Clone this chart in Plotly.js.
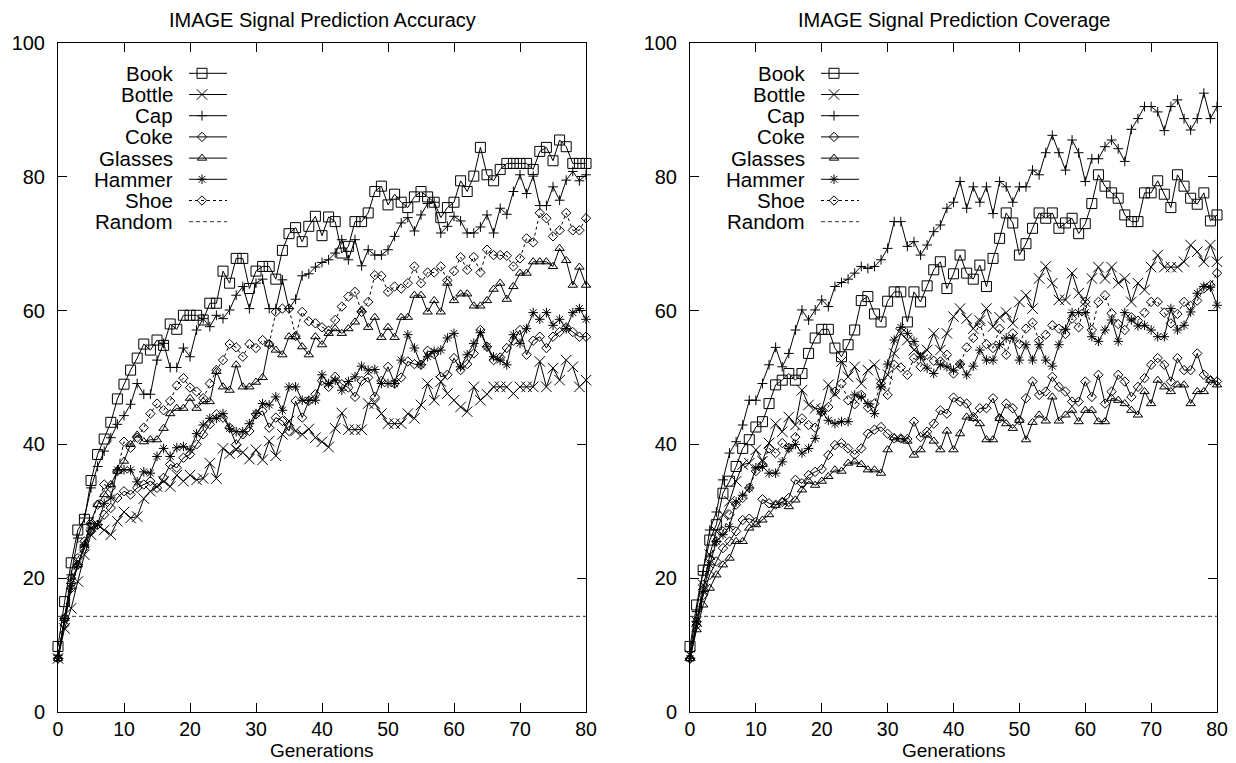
<!DOCTYPE html>
<html>
<head>
<meta charset="utf-8">
<script src="https://cdn.plot.ly/plotly-3.0.1.min.js"></script>
<style>
html,body{margin:0;padding:0;background:#fff;}
#chart{width:1236px;height:763px;}
</style>
</head>
<body>
<div id="chart"></div>
<script>
// ---------------- DATA ----------------
const generations = [0,1,2,3,4,5,6,7,8,9,10,11,12,13,14,15,16,17,18,19,20,21,22,23,24,25,26,27,28,29,30,31,32,33,34,35,36,37,38,39,40,41,42,43,44,45,46,47,48,49,50,51,52,53,54,55,56,57,58,59,60,61,62,63,64,65,66,67,68,69,70,71,72,73,74,75,76,77,78,79,80];
const seriesNames = ["Book","Bottle","Cap","Coke","Glasses","Hammer","Shoe"];
const randomName = "Random";
const randomX = [0, 80];
const randomY = [14.3, 14.3];
const xTicks = [0,10,20,30,40,50,60,70,80];
const yTicks = [0,20,40,60,80,100];
const titleAccuracy = "IMAGE Signal Prediction Accuracy";
const titleCoverage = "IMAGE Signal Prediction Coverage";
const xTitle = "Generations";

// Accuracy panel
const accBook = [9.8,16.5,22.3,27.2,28.8,34.6,38.5,40.8,43.3,46.8,49.0,51.1,52.9,55.0,54.1,55.6,54.8,58.0,57.2,59.3,59.3,59.3,58.6,61.1,61.1,65.9,64.1,67.8,67.8,63.3,65.9,66.6,66.6,64.7,69.0,71.5,72.4,70.3,72.6,74.1,71.2,74.0,73.3,68.6,69.6,73.3,73.3,74.6,77.8,78.6,75.8,77.4,76.2,75.4,77.0,77.8,77.0,76.2,73.9,75.4,76.2,79.4,77.8,80.1,84.4,80.3,79.4,81.1,82.0,82.0,82.0,82.0,81.1,83.8,84.4,82.4,85.5,84.5,82.0,82.0,82.0];
const accBottle = [8.0,12.5,15.5,19.5,23.5,26.5,28.0,27.2,26.5,28.5,29.9,29.0,29.2,31.9,33.0,33.7,34.5,33.7,35.4,34.5,35.4,34.7,34.9,37.2,34.9,39.4,38.6,39.2,38.8,37.8,39.2,37.7,40.5,38.3,41.5,43.5,42.0,41.5,42.3,41.0,40.4,39.6,42.4,44.7,42.2,42.2,42.2,46.1,46.1,44.6,43.1,43.1,43.1,44.6,43.9,45.9,49.1,46.6,49.4,47.6,46.6,45.6,44.9,48.6,46.6,47.5,48.6,48.6,48.6,47.6,48.6,48.6,48.6,52.4,48.6,51.4,49.6,52.6,51.6,48.6,49.6];
const accCap = [8.5,14.0,20.5,26.0,29.0,33.5,36.7,39.0,41.0,43.0,44.3,46.0,49.1,47.5,47.5,52.6,55.1,51.5,51.5,54.4,53.1,57.1,58.8,57.6,59.3,58.8,60.1,62.3,63.6,60.3,64.1,64.7,60.3,60.3,64.6,60.3,61.7,65.2,65.5,66.5,67.2,67.6,68.6,70.6,67.6,70.6,66.7,69.1,68.3,68.3,69.1,71.1,73.1,73.9,71.9,74.3,76.0,76.2,71.6,72.6,74.1,73.4,71.6,71.6,72.5,74.3,71.6,75.3,74.4,77.8,80.3,77.5,80.1,75.7,75.7,78.5,76.5,79.5,80.8,79.4,80.3];
const accCoke = [8.0,13.0,18.5,22.0,24.5,27.0,28.0,29.5,30.5,32.0,33.0,32.5,33.5,34.0,34.5,33.5,35.0,37.0,36.5,38.0,38.5,40.0,41.5,43.0,44.5,44.0,42.5,40.0,41.5,42.0,44.5,45.0,42.5,44.0,43.5,42.0,46.5,44.0,46.5,47.5,49.5,48.6,50.1,49.0,48.5,47.1,49.5,50.0,47.1,49.5,51.6,49.1,50.0,52.4,52.0,51.9,54.0,53.5,50.1,50.4,52.9,51.1,52.0,53.6,57.1,54.6,52.6,53.0,54.4,55.5,57.1,53.4,55.5,56.1,54.4,56.1,56.8,57.5,56.8,56.1,56.1];
const accGlasses = [8.0,14.0,19.5,22.0,25.0,28.5,31.0,32.5,34.0,36.0,37.5,40.0,41.4,40.4,40.7,40.7,42.4,44.6,45.4,45.4,46.9,45.4,46.4,46.4,50.9,48.6,48.1,51.9,48.6,48.6,49.3,50.0,55.0,54.1,53.4,56.1,56.1,54.6,53.4,56.1,54.9,56.6,57.3,56.6,57.3,58.3,60.1,57.5,59.0,56.0,57.5,56.0,59.0,59.0,62.3,62.3,59.8,61.5,59.8,64.1,61.5,62.5,62.5,60.7,60.7,61.5,63.2,64.1,61.7,63.6,65.6,65.6,67.3,67.3,67.3,66.6,69.3,67.5,63.8,66.5,63.8];
const accHammer = [8.0,14.0,18.5,22.0,25.0,27.5,28.0,31.2,32.0,36.2,36.2,36.2,34.4,35.9,35.7,38.2,39.4,38.2,39.5,39.7,39.2,41.6,42.9,43.9,43.9,44.6,42.4,41.9,41.9,43.1,44.6,46.1,45.9,47.1,45.1,48.6,48.6,46.6,46.6,46.6,50.4,49.1,49.6,48.1,49.4,50.1,51.7,51.1,51.2,49.1,49.1,49.1,52.6,56.4,54.4,51.9,53.1,53.9,54.1,55.9,56.6,51.6,53.4,55.1,56.7,54.6,53.1,52.6,51.9,56.4,55.1,57.3,59.7,58.7,59.7,57.8,58.7,57.3,59.7,60.3,58.7];
const accShoe = [8.0,14.0,20.0,23.0,25.5,28.0,31.0,34.0,33.5,36.0,40.4,39.5,41.0,42.5,44.6,46.1,45.1,46.5,48.8,49.9,48.5,47.9,46.9,49.1,51.1,52.6,55.0,54.5,53.1,55.0,54.4,55.6,55.0,59.8,60.3,60.3,56.2,59.8,58.4,58.1,57.5,57.0,58.6,60.6,62.1,62.8,59.8,61.3,65.3,65.2,62.8,63.6,63.3,64.1,66.6,64.1,65.7,65.7,66.6,64.5,65.9,68.0,66.1,68.0,65.7,69.1,68.3,68.3,68.2,66.6,67.8,70.8,70.2,74.6,73.8,71.1,72.0,74.6,72.0,72.0,73.8];

// Coverage panel
const covBook = [9.8,16.0,21.2,25.7,28.0,32.7,34.5,36.7,39.4,40.7,42.6,43.4,46.1,48.9,49.6,50.6,49.6,50.6,53.6,55.9,57.2,57.2,54.4,53.1,54.9,57.1,61.5,62.1,59.5,58.3,61.4,62.8,62.8,58.3,62.8,61.3,63.7,66.1,67.3,63.3,65.5,68.3,65.6,64.7,66.8,63.6,67.8,70.8,74.6,73.1,68.3,70.0,72.3,74.6,73.8,74.6,72.3,73.1,73.8,71.5,73.0,76.0,80.3,78.6,77.6,76.8,74.3,73.3,73.3,77.6,77.6,79.4,77.4,75.4,80.3,78.6,76.8,75.9,77.6,73.4,74.3];
const covBottle = [8.5,13.5,19.0,23.5,27.0,29.5,31.5,34.5,37.0,37.2,39.2,37.5,40.2,43.1,41.9,44.1,42.9,48.1,45.9,45.4,45.2,48.9,47.5,52.4,50.1,51.6,49.1,51.1,51.9,49.1,50.4,53.6,56.6,55.6,54.1,53.4,54.1,56.6,54.1,56.6,59.1,60.3,58.8,57.3,58.5,60.3,57.6,59.0,59.7,58.1,61.3,62.3,60.3,64.8,66.6,64.1,61.6,61.6,65.6,62.6,61.3,64.8,66.5,64.8,66.5,64.1,64.8,61.3,64.1,63.1,66.5,68.3,66.5,66.5,66.5,67.3,69.8,68.8,67.3,69.8,67.3];
const covCap = [9.0,15.0,21.0,27.2,29.9,34.7,38.7,40.4,42.9,46.6,46.6,49.1,51.9,54.5,51.6,53.6,57.1,60.1,58.6,60.1,61.6,60.6,63.6,64.2,64.7,65.6,66.6,66.3,66.6,67.6,69.3,73.3,73.3,69.6,70.3,68.3,69.8,71.8,72.8,75.3,76.2,79.3,75.3,78.5,76.2,78.5,74.5,79.3,78.5,76.2,78.5,78.5,81.0,80.3,83.6,86.2,83.6,81.0,85.5,83.6,79.3,82.7,82.7,84.5,85.5,84.2,82.3,87.1,88.7,90.5,90.5,89.7,86.9,90.5,91.5,88.7,87.0,88.7,92.5,88.7,90.5];
const covCoke = [8.0,13.0,17.5,20.5,22.5,24.5,25.5,27.0,28.7,28.9,28.4,31.8,31.2,31.0,31.4,32.0,34.7,34.2,35.4,35.9,36.3,38.4,39.9,40.2,39.4,38.5,39.4,41.6,42.2,42.6,41.6,40.9,40.9,40.8,43.4,41.1,41.9,43.1,45.1,44.6,47.0,46.4,46.1,44.1,45.4,45.4,46.9,43.9,46.1,45.4,43.6,46.9,49.4,47.4,47.9,50.1,48.6,47.9,46.4,46.4,49.4,47.1,50.4,46.1,47.9,50.4,49.4,47.1,48.6,49.9,51.9,52.9,51.9,49.4,52.9,51.1,51.1,53.6,50.4,49.6,49.4];
const covGlasses = [8.0,12.3,16.0,18.5,20.5,22.0,23.0,25.5,25.5,27.5,28.0,28.7,29.5,30.9,31.4,30.7,31.7,33.2,34.5,33.9,34.5,35.2,36.2,36.0,37.2,37.4,37.0,36.2,36.2,35.7,39.2,41.0,40.8,40.5,38.4,39.2,41.4,40.5,39.2,42.0,39.2,41.6,44.1,43.9,43.1,40.7,40.7,43.9,43.1,42.4,43.6,40.7,43.3,44.4,43.5,47.1,43.5,44.4,45.1,43.4,45.1,45.1,43.4,43.4,46.9,46.6,46.1,45.1,44.4,47.9,46.1,49.6,48.6,47.9,48.9,48.9,46.1,47.9,47.9,49.6,48.9];
const covHammer = [8.0,13.5,18.0,22.0,25.5,26.5,27.7,31.4,32.4,33.5,36.5,36.7,35.7,35.7,37.4,39.4,40.0,38.7,39.4,40.9,44.9,43.6,43.1,43.4,43.4,47.4,47.1,46.1,44.6,48.6,52.0,55.6,57.5,56.6,55.4,53.1,51.4,50.6,51.9,51.6,51.1,52.0,50.4,51.7,54.1,52.6,52.6,54.9,55.9,55.9,52.6,54.9,52.6,54.9,52.6,51.7,54.9,57.2,59.7,59.7,59.7,56.1,55.4,57.1,58.6,55.4,59.7,58.6,57.7,57.8,57.1,56.1,56.1,60.3,57.1,57.8,59.8,62.6,63.6,63.5,60.8];
const covShoe = [8.0,13.5,19.0,23.0,25.5,27.0,29.5,31.0,32.0,33.5,36.0,37.0,39.4,38.7,40.2,39.5,41.1,43.9,42.9,42.5,44.9,45.6,47.9,49.1,46.6,46.0,47.4,45.5,46.1,49.1,47.4,51.9,51.5,50.4,52.9,51.6,53.4,52.5,52.4,53.4,50.6,52.0,54.5,55.9,58.1,55.0,54.4,57.3,53.4,56.6,55.0,57.3,58.2,55.5,56.4,57.8,57.3,56.5,58.8,57.5,61.3,57.1,61.3,62.3,59.6,58.0,57.1,59.0,58.5,59.7,61.3,61.3,59.7,58.1,59.5,61.3,60.7,61.5,63.3,63.8,65.6];

// ---------------- STYLE / LAYOUT ----------------
const W = 1236, H = 763;
const FONT = "Liberation Sans, Arial, Helvetica, sans-serif";
const panels = [
  {xa:"x",  ya:"y",  left:58,  right:586,  title:titleAccuracy,
   data:[accBook,accBottle,accCap,accCoke,accGlasses,accHammer,accShoe]},
  {xa:"x2", ya:"y2", left:690, right:1217, title:titleCoverage,
   data:[covBook,covBottle,covCap,covCoke,covGlasses,covHammer,covShoe]}
];
const plotTop = 43, plotBottom = 712;
const styles = [
  {symbol:"square-open",      size:10,  dash:"solid"},
  {symbol:"x-thin-open",      size:10.5,dash:"solid"},
  {symbol:"cross-thin-open",  size:7,   dash:"solid"},
  {symbol:"diamond-open",     size:7.2, dash:"solid"},
  {symbol:"triangle-up-open", size:8.2, dash:"solid"},
  {symbol:"asterisk-open",    size:8,   dash:"solid"},
  {symbol:"diamond-open",     size:7.2, dash:"dot"}
];
const RANDOM_DASH = "4px,3px";
const LEG = {textRight:117, lineX0:131, lineX1:169, markX:144, row0:30.3, rowStep:21.2, fontSize:20.5};

const traces = [];
const annotations = [];

panels.forEach((p, pi) => {
  p.data.forEach((vals, si) => {
    const st = styles[si];
    traces.push({
      type:"scatter", mode:"lines+markers", name:seriesNames[si],
      x:generations, y:vals, xaxis:p.xa, yaxis:p.ya, cliponaxis:false,
      line:{color:"#000", width:1, dash:st.dash},
      marker:{symbol:st.symbol, size:st.size, color:"#000", line:{color:"#000", width:1}},
      showlegend:false, hoverinfo:"skip"
    });
  });
  traces.push({
    type:"scatter", mode:"lines", name:randomName, x:randomX, y:randomY,
    xaxis:p.xa, yaxis:p.ya, line:{color:"#333", width:1, dash:RANDOM_DASH},
    showlegend:false, hoverinfo:"skip"
  });

  // gnuplot-like key (text, then sample) on a pixel-space overlay axis
  const names = seriesNames.concat([randomName]);
  names.forEach((nm, ri) => {
    const yPix = plotTop + LEG.row0 + ri*LEG.rowStep;
    annotations.push({
      xref:"paper", yref:"paper", x:(p.left+LEG.textRight)/W, y:1 - yPix/H,
      xanchor:"right", yanchor:"middle", showarrow:false, text:nm,
      font:{family:FONT, size:LEG.fontSize, color:"#000"}
    });
    const isRandom = ri === seriesNames.length;
    traces.push({
      type:"scatter", mode:"lines", x:[p.left+LEG.lineX0, p.left+LEG.lineX1], y:[yPix, yPix],
      xaxis:"x3", yaxis:"y3", cliponaxis:false,
      line:{color: isRandom ? "#333" : "#000", width:1, dash: isRandom ? RANDOM_DASH : styles[ri].dash},
      showlegend:false, hoverinfo:"skip"
    });
    if (!isRandom) {
      traces.push({
        type:"scatter", mode:"markers", x:[p.left+LEG.markX], y:[yPix],
        xaxis:"x3", yaxis:"y3", cliponaxis:false,
        marker:{symbol:styles[ri].symbol, size:styles[ri].size, color:"#000", line:{color:"#000", width:1}},
        showlegend:false, hoverinfo:"skip"
      });
    }
  });

  annotations.push({
    xref:"paper", yref:"paper", x:(p.left+p.right)/2/W, y:1 - 20/H,
    xanchor:"center", yanchor:"middle", showarrow:false, text:p.title,
    font:{family:FONT, size:20, color:"#000"}
  });
  annotations.push({
    xref:"paper", yref:"paper", x:(p.left+p.right)/2/W, y:0,
    xanchor:"center", yanchor:"bottom", showarrow:false, text:xTitle,
    font:{family:FONT, size:19, color:"#000"}
  });
});

function xAxis(p){
  return {domain:[p.left/W, p.right/W], range:[0,80], tickvals:xTicks, ticktext:xTicks.map(String),
    ticks:"inside", ticklen:9, tickwidth:1, tickcolor:"#000", showline:true, linecolor:"#000", linewidth:1,
    mirror:"ticks", showgrid:false, zeroline:false, fixedrange:true, ticklabelstandoff:0,
    tickfont:{family:FONT, size:19.5, color:"#000"}};
}
function yAxis(){
  return {domain:[1-plotBottom/H, 1-plotTop/H], range:[0,100], tickvals:yTicks, ticktext:yTicks.map(String),
    ticks:"inside", ticklen:9, tickwidth:1, tickcolor:"#000", showline:true, linecolor:"#000", linewidth:1,
    mirror:"ticks", showgrid:false, zeroline:false, fixedrange:true, ticklabelstandoff:8,
    tickfont:{family:FONT, size:20, color:"#000"}};
}

const layout = {
  width:W, height:H, margin:{l:0,r:0,t:0,b:0},
  paper_bgcolor:"#fff", plot_bgcolor:"rgba(0,0,0,0)", showlegend:false,
  xaxis: Object.assign(xAxis(panels[0]), {anchor:"y"}),
  yaxis: Object.assign(yAxis(), {anchor:"x"}),
  xaxis2: Object.assign(xAxis(panels[1]), {anchor:"y2"}),
  yaxis2: Object.assign(yAxis(), {anchor:"x2"}),
  xaxis3: {domain:[0,1], range:[0,W], visible:false, anchor:"y3", fixedrange:true},
  yaxis3: {domain:[0,1], range:[H,0], visible:false, anchor:"x3", fixedrange:true},
  annotations: annotations
};

Plotly.newPlot("chart", traces, layout, {staticPlot:true, displayModeBar:false});
</script>
</body>
</html>
